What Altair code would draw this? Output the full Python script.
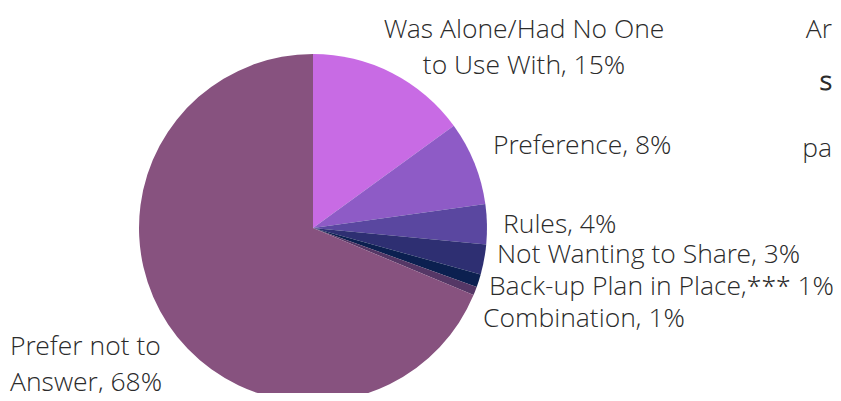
import altair as alt
import pandas as pd

# Data
categories = [
    "Was Alone/Had No One to Use With",
    "Preference",
    "Rules",
    "Not Wanting to Share",
    "Back-up Plan in Place,***",
    "Combination",
    "Prefer not to Answer",
]
values = [15.0, 7.8, 3.7, 2.8, 1.2, 0.8, 68.7]
colors = ["#c86be4", "#8e5bc6", "#5a47a0", "#2e2f72", "#0c2050", "#553766", "#87527f"]

label_lines = [
    "Was Alone/Had No One",
    "to Use With, 15%",
    "Preference, 8%",
    "Rules, 4%",
    "Not Wanting to Share, 3%",
    "Back-up Plan in Place,*** 1%",
    "Combination, 1%",
    "Prefer not to",
    "Answer, 68%",
]
fragments = ["Ar", "s", "pa"]

# Layout (style, not data): (x, y, align) in chart pixels
label_layout = [
    (516, 30, "center"),
    (516, 66, "center"),
    (485, 146, "left"),
    (495, 225, "left"),
    (489, 255, "left"),
    (481, 287, "left"),
    (475, 319, "left"),
    (2, 347, "left"),
    (2, 383, "left"),
]
fragment_layout = [(824, 30), (824, 82), (824, 149)]

df = pd.DataFrame({"category": categories, "value": values, "order": list(range(len(values)))})

FONT = "Open Sans Light, Open Sans"
FS = 26.5
TXT = "#2b2b2b"

pie = alt.Chart(df).mark_arc(radius=174, x=305, y=220, stroke=None).encode(
    theta=alt.Theta("value:Q", stack=True),
    order=alt.Order("order:Q"),
    color=alt.Color("category:N", scale=alt.Scale(domain=categories, range=colors), legend=None),
)

layers = [pie]
for text, (x, y, align) in zip(label_lines, label_layout):
    layers.append(
        alt.Chart(pd.DataFrame({"t": [text]})).mark_text(
            x=x, y=y, align=align, baseline="alphabetic", font=FONT, fontSize=FS,
            fontWeight=300, color=TXT,
        ).encode(text="t:N")
    )
for text, (x, y) in zip(fragments, fragment_layout):
    layers.append(
        alt.Chart(pd.DataFrame({"t": [text]})).mark_text(
            x=x, y=y, align="right", baseline="alphabetic", font=FONT, fontSize=FS,
            fontWeight=600 if text == "s" else 300, color=TXT,
        ).encode(text="t:N")
    )

chart = alt.layer(*layers).properties(
    width=825, height=385, autosize=alt.AutoSizeParams(type="none"), padding=0,
).configure_view(stroke=None).configure(background="white")

chart.save("out.html", embed_options={"renderer": "svg", "actions": False})
